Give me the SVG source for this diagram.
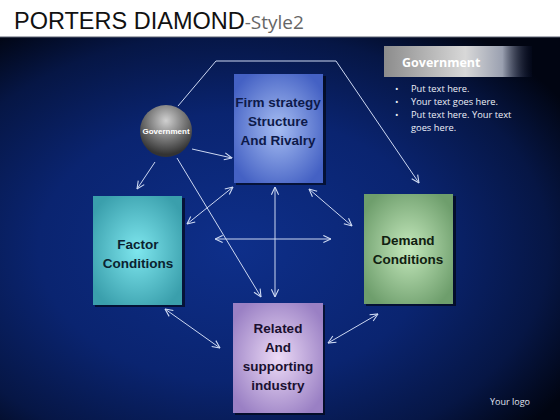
<svg xmlns="http://www.w3.org/2000/svg" width="560" height="420" viewBox="0 0 560 420">
<defs>
<radialGradient id="bg" cx="0.42" cy="0.55" r="0.7">
<stop offset="0" stop-color="#0e2f8a"/>
<stop offset="0.5" stop-color="#0a2470"/>
<stop offset="0.8" stop-color="#061645"/>
<stop offset="1" stop-color="#010512"/>
</radialGradient>
<radialGradient id="gBlue" cx="0.5" cy="0.5" r="0.6">
<stop offset="0" stop-color="#a6bdf2"/>
<stop offset="1" stop-color="#4461c4"/>
</radialGradient>
<radialGradient id="gTeal" cx="0.5" cy="0.5" r="0.6">
<stop offset="0" stop-color="#7ee6ee"/>
<stop offset="1" stop-color="#3a9fac"/>
</radialGradient>
<radialGradient id="gGreen" cx="0.5" cy="0.5" r="0.6">
<stop offset="0" stop-color="#c4e8bc"/>
<stop offset="1" stop-color="#6e9e6c"/>
</radialGradient>
<radialGradient id="gPurple" cx="0.5" cy="0.5" r="0.6">
<stop offset="0" stop-color="#ecdaf6"/>
<stop offset="1" stop-color="#9a80c4"/>
</radialGradient>
<radialGradient id="gSphere" cx="0.5" cy="0.3" r="0.65">
<stop offset="0" stop-color="#d0d0d0"/>
<stop offset="0.5" stop-color="#808080"/>
<stop offset="1" stop-color="#333333"/>
</radialGradient>
<linearGradient id="gPanel" x1="0" y1="0" x2="1" y2="0">
<stop offset="0" stop-color="#8c8c8c"/>
<stop offset="0.55" stop-color="#d8d8d8"/>
<stop offset="0.8" stop-color="#9aa0b0"/>
<stop offset="1" stop-color="#0a1230" stop-opacity="0.2"/>
</linearGradient>
<marker id="ah" viewBox="0 0 10 10" refX="9.5" refY="5" markerWidth="9" markerHeight="9" orient="auto-start-reverse" markerUnits="userSpaceOnUse">
<path d="M1,1 L9.5,5 L1,9" fill="none" stroke="#d0dcf4" stroke-width="1.2"/>
</marker>
</defs>
<style>
.ln{fill:none;stroke:#cdd8f2;stroke-width:1}
.bt{font-family:"Liberation Sans",Arial,sans-serif;font-weight:bold;font-size:13.5px;text-anchor:middle}
.sh{fill:#000;opacity:0.55}
.bl{font-family:"Open Sans","Liberation Sans",sans-serif;font-size:9.3px;fill:#eef0f8}
</style>
<rect x="0" y="0" width="560" height="420" fill="#ffffff"/>
<rect x="0" y="37" width="560" height="383" fill="url(#bg)"/>
<line x1="0" y1="37" x2="560" y2="37" stroke="#5a6070" stroke-width="1"/>
<text x="14" y="29" font-family="Liberation Sans,Arial,sans-serif" font-size="23.5" fill="#111"><tspan>PORTERS DIAMOND</tspan><tspan font-family="Open Sans,sans-serif" font-size="19" fill="#666">-Style2</tspan></text>

<g id="connectors">
<polyline class="ln" points="178,106 216,61 336,61 419,183" marker-end="url(#ah)"/>
<line class="ln" x1="192" y1="149" x2="232" y2="158" marker-end="url(#ah)"/>
<line class="ln" x1="155" y1="162" x2="137" y2="189" marker-end="url(#ah)"/>
<line class="ln" x1="177" y1="158" x2="261" y2="297" marker-end="url(#ah)"/>
<line class="ln" x1="187" y1="224" x2="233" y2="187" marker-start="url(#ah)" marker-end="url(#ah)"/>
<line class="ln" x1="275" y1="187" x2="275" y2="297" marker-start="url(#ah)" marker-end="url(#ah)"/>
<line class="ln" x1="215" y1="239" x2="331" y2="239" marker-start="url(#ah)" marker-end="url(#ah)"/>
<line class="ln" x1="309" y1="189" x2="352" y2="226" marker-start="url(#ah)" marker-end="url(#ah)"/>
<line class="ln" x1="165" y1="309" x2="220" y2="348" marker-start="url(#ah)" marker-end="url(#ah)"/>
<line class="ln" x1="328" y1="343" x2="378" y2="314" marker-start="url(#ah)" marker-end="url(#ah)"/>
</g>

<g id="firm">
<rect class="sh" x="236" y="76" width="90" height="109"/>
<rect x="234" y="74" width="89" height="109" fill="url(#gBlue)"/>
<text class="bt" fill="#0d1a4a"><tspan x="278" y="107">Firm strategy</tspan><tspan x="278" y="126">Structure</tspan><tspan x="278" y="145">And Rivalry</tspan></text>
</g>

<g id="factor">
<rect class="sh" x="95" y="198" width="90" height="109"/>
<rect x="93" y="196" width="89" height="109" fill="url(#gTeal)"/>
<text class="bt" fill="#0a2230"><tspan x="138" y="249">Factor</tspan><tspan x="138" y="268">Conditions</tspan></text>
</g>

<g id="demand">
<rect class="sh" x="366" y="196" width="90" height="110"/>
<rect x="364" y="194" width="89" height="110" fill="url(#gGreen)"/>
<text class="bt" fill="#102010"><tspan x="408" y="245">Demand</tspan><tspan x="408" y="264">Conditions</tspan></text>
</g>

<g id="related">
<rect class="sh" x="235" y="305" width="90" height="110"/>
<rect x="233" y="303" width="90" height="110" fill="url(#gPurple)"/>
<text class="bt" fill="#1a1030"><tspan x="278" y="333">Related</tspan><tspan x="278" y="352">And</tspan><tspan x="278" y="371">supporting</tspan><tspan x="278" y="390">industry</tspan></text>
</g>

<g id="government">
<circle cx="166" cy="131" r="26" fill="url(#gSphere)"/>
<text x="166" y="134" font-family="Liberation Sans,Arial,sans-serif" font-weight="bold" font-size="8" fill="#ffffff" text-anchor="middle">Government</text>
</g>

<g id="panel">
<rect x="384" y="46" width="148" height="31" fill="url(#gPanel)"/>
<text x="402" y="67" font-family="Open Sans,Liberation Sans,sans-serif" font-weight="bold" font-size="12.5" fill="#ffffff">Government</text>
<text class="bl"><tspan x="395" y="92">•</tspan><tspan x="411" y="92">Put text here.</tspan></text>
<text class="bl"><tspan x="395" y="105">•</tspan><tspan x="411" y="105">Your text goes here.</tspan></text>
<text class="bl"><tspan x="395" y="118">•</tspan><tspan x="411" y="118">Put text here. Your text</tspan><tspan x="411" y="131">goes here.</tspan></text>
</g>

<text x="490" y="405" font-family="Open Sans,Liberation Sans,sans-serif" font-size="9" fill="#e0e4f0">Your logo</text>
</svg>
